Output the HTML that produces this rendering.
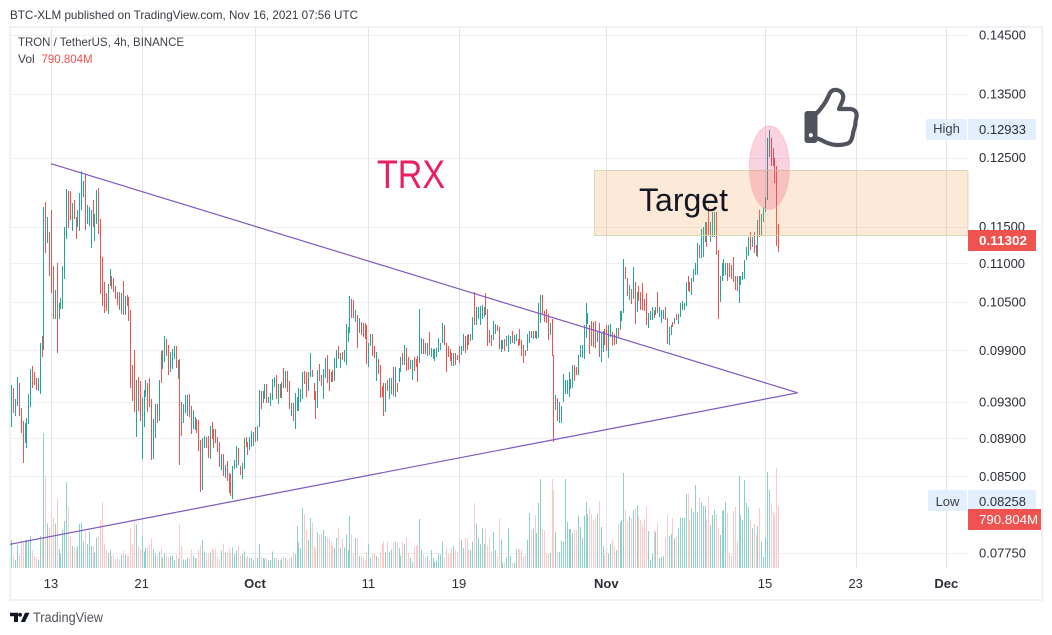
<!DOCTYPE html>
<html lang="en">
<head>
<meta charset="utf-8">
<title>TRON / TetherUS chart</title>
<style>
html,body{margin:0;padding:0;background:#fff;width:1052px;height:635px;overflow:hidden}
svg{display:block;font-family:"Liberation Sans",sans-serif}
</style>
</head>
<body>
<svg id="chart" width="1052" height="635" viewBox="0 0 1052 635" xmlns="http://www.w3.org/2000/svg">
  <rect x="0" y="0" width="1052" height="635" fill="#ffffff"/>
  <text x="10" y="19" font-size="12" fill="#333842" textLength="348" lengthAdjust="spacingAndGlyphs">BTC-XLM published on TradingView.com, Nov 16, 2021 07:56 UTC</text>
  <rect x="10" y="27" width="1032" height="573" fill="none" stroke="#f0f1f6" stroke-width="2"/>
  <g id="grid"></g>
  <g id="volume-layer" shape-rendering="crispEdges"></g>
  <g id="bar-layer" shape-rendering="crispEdges"></g>
  <g id="drawings"></g>
  <text x="18" y="46" font-size="12" fill="#3b3f4a" textLength="166" lengthAdjust="spacingAndGlyphs">TRON / TetherUS, 4h, BINANCE</text>
  <text x="18" y="63" font-size="12" fill="#3b3f4a">Vol</text>
  <text x="41.5" y="63" font-size="12" fill="#ef5350" textLength="51" lengthAdjust="spacingAndGlyphs">790.804M</text>
  <g id="price-axis"></g>
  <g id="time-axis"></g>

  <rect x="926" y="119" width="41" height="21" rx="2" fill="#e3effd"/>
  <text x="946.5" y="133" font-size="13" text-anchor="middle" fill="#3b3f4a">High</text>
  <rect x="968" y="119" width="68" height="21" rx="1" fill="#e3effd"/>
  <text x="979" y="134" font-size="13" fill="#2a2e39">0.12933</text>

  <rect x="968" y="230" width="68" height="21" fill="#ef5350"/>
  <text x="979" y="245" font-size="13" font-weight="bold" fill="#ffffff" textLength="48" lengthAdjust="spacingAndGlyphs">0.11302</text>

  <rect x="928" y="490" width="39" height="21" rx="2" fill="#e3effd"/>
  <text x="947.5" y="506" font-size="13" text-anchor="middle" fill="#3b3f4a">Low</text>
  <rect x="968" y="490" width="68" height="21" rx="1" fill="#e3effd"/>
  <text x="979" y="506" font-size="13" fill="#2a2e39">0.08258</text>

  <rect x="968" y="509" width="73" height="21" fill="#ef5350"/>
  <text x="979" y="524" font-size="13" fill="#ffffff" textLength="59" lengthAdjust="spacingAndGlyphs">790.804M</text>

  <g>
    <path d="M10 612.7H18V622H14V616.3H10ZM20 612.7a2 2 0 1 0 .01 0ZM25 612.7H29.5L25 622H20.8Z" fill="#131722"/>
    <text x="33" y="622" font-size="13.5" fill="#50535e" textLength="70" lengthAdjust="spacingAndGlyphs">TradingView</text>
  </g>
</svg>
<script>
// Prices below are in units of 0.0001 (949 = 0.0949). Volumes are in units of 4.25M.
const PRICE_UNIT = 0.0001;
const VOLUME_UNIT_M = 4.25;

const highs = [
949,946,933,959,952,923,909,907,912,939,
968,972,964,958,957,999,1007,1178,1185,1164,
1143,1173,1097,1065,1101,1049,1055,1097,1149,1204,
1201,1201,1184,1187,1163,1174,1197,1230,1215,1226,
1181,1177,1174,1187,1167,1202,1205,1160,1108,1075,
1061,1073,1092,1083,1080,1070,1062,1062,1061,1077,
1057,1058,1056,1039,973,990,955,959,954,935,
944,955,952,958,933,911,928,928,955,989,
990,1008,1004,997,988,992,995,995,978,980,
930,928,938,938,939,926,921,913,911,910,
888,890,893,892,893,904,908,900,900,891,
886,873,873,862,866,854,853,861,867,882,
880,861,864,890,891,886,891,898,897,902,
904,944,943,943,951,951,936,940,956,959,
961,951,951,953,969,966,966,954,929,929,
940,936,946,945,964,966,964,964,987,967,
952,943,967,974,961,968,981,985,968,964,
967,981,991,995,987,988,991,1022,1018,1057,
1053,1052,1039,1033,1030,1024,1023,1023,1021,999,
1010,1010,995,988,980,973,948,952,952,955,
957,957,970,970,952,969,982,987,997,993,
982,978,978,982,980,983,1041,1005,1004,999,
999,1012,993,992,992,993,1005,999,1023,1021,
999,995,992,987,987,987,984,995,995,1010,
1007,1009,1010,1010,1031,1063,1044,1043,1045,1046,
1043,1061,1041,1015,1009,1026,1022,1021,1018,1002,
1002,1004,1008,1009,1008,1013,1009,1010,1004,1016,
1003,996,991,1010,1014,1014,1014,1014,1014,1049,
1059,1058,1038,1041,1035,1023,1028,984,938,935,
930,926,962,955,955,964,956,973,973,970,
985,996,996,1021,1048,1036,1021,1026,1025,1026,
1014,1023,1012,1013,1016,1021,1021,1022,1012,1010,
1017,1017,1038,1038,1106,1095,1080,1072,1066,1095,
1075,1062,1070,1063,1074,1053,1061,1036,1038,1043,
1040,1044,1063,1044,1040,1039,1044,1029,1018,1021,
1024,1029,1034,1034,1049,1051,1049,1075,1083,1076,
1081,1093,1101,1128,1125,1147,1150,1156,1156,1177,
1156,1171,1171,1171,1118,1083,1100,1106,1101,1100,
1101,1098,1109,1083,1083,1083,1083,1089,1105,1122,
1135,1142,1136,1142,1124,1159,1174,1167,1177,1192,
1280,1293,1280,1264,1250,1238,1153
];

const lows = [
902,918,914,926,915,896,864,885,880,906,
924,946,949,944,942,939,982,991,1114,1128,
1084,1061,1029,1028,987,1029,1041,1041,1079,1133,
1149,1159,1145,1160,1133,1150,1143,1174,1191,1145,
1154,1150,1121,1149,1129,1154,1140,1059,1044,1035,
1038,1035,1070,1066,1062,1053,1045,1039,1034,1034,
1033,1044,1026,945,932,918,891,920,909,868,
903,935,919,925,867,868,891,907,909,951,
968,977,983,962,964,968,980,969,956,862,
893,907,918,914,913,895,900,899,896,876,
834,836,880,880,870,869,890,880,885,875,
860,856,850,849,845,834,831,827,858,859,
862,852,847,857,880,872,877,881,882,886,
888,903,923,929,934,929,929,925,932,947,
933,928,935,935,946,946,942,922,914,909,
900,920,920,930,933,951,935,942,959,959,
933,912,923,954,948,934,957,952,943,952,
953,954,970,980,969,979,977,973,1000,1011,
1029,1029,1024,993,1011,1008,1006,1003,974,970,
995,984,981,954,962,935,935,915,919,942,
933,939,937,935,942,953,964,973,973,966,
967,967,955,966,971,952,975,986,986,986,
984,984,982,980,978,982,988,991,998,997,
964,982,978,972,972,973,978,975,984,989,
986,991,997,1002,1003,1022,1022,1028,1021,1028,
1030,1033,996,999,996,1003,1010,1014,991,987,
991,989,996,989,998,998,998,1002,996,996,
984,974,984,989,999,1006,1004,1006,1004,1006,
1024,1034,1024,1024,1003,1008,983,886,921,909,
907,907,930,939,939,935,945,946,954,961,
961,982,980,980,1004,1022,986,995,995,993,
1000,982,976,988,997,989,981,1006,995,997,
998,1006,1014,1025,1036,1079,1057,1053,1047,1054,
1022,1036,1051,1040,1040,1038,1021,1017,1027,1027,
1030,1034,1036,1031,1024,1028,1028,997,996,1009,
1018,1021,1026,1022,1031,1040,1040,1044,1063,1063,
1059,1076,1085,1085,1108,1108,1109,1128,1122,1136,
1129,1136,1136,1112,1029,1049,1076,1083,1085,1076,
1083,1079,1076,1065,1063,1048,1071,1079,1080,1105,
1109,1118,1122,1114,1109,1108,1136,1136,1156,1170,
1187,1251,1238,1237,1213,1124,1114
];

const directions = (
"GRGGRRRGGG GRRRGGRGRG RRRGRGGGGG RRGRRGGGGR GGGRGGRRRR " +
"RGGRRRRRGR GRRRRRGRRG GGRRRGGRGR GGRRGGGRGR RGGGRRGGRR " +
"RGGRRGRRRR RGRGRRRGGG RRGGRRGGGR GGRGGRGGGG RGRGRGRRGR " +
"GGGGGRRGGR RRGRRGGRRR RGGRGRGGGG RRGRGRRRRG GRRGRRRRGR " +
"GGRGRGGRGR RGGRRRGGRR GRGGGGGGGR RRRRGRRRGG RRRGGRGGGG " +
"GRRRRGGRRG GRGGGRGGRR RRRGGRGRGG GRRRRGRRGR GGGGGGGGRR " +
"GGGGGGRRRR GRGGRRGGRR GRGGGRRGRG RGRRRRRGGG RGRGGGRRGG " +
"RGRGGGGGRR GGGGRGGGRR GGGRRGGGGR RRRRRGGGGG GRGRRGRGGG GGRRRRR"
).replace(/ /g, "").split("");

const volumes = [
84,39,24,69,39,84,80,84,84,86,
96,52,36,31,24,96,90,405,276,134,
120,174,150,134,207,57,42,114,141,258,
184,96,66,62,57,66,132,136,80,108,
72,110,66,66,46,90,94,144,198,72,
54,44,54,36,40,26,30,26,40,52,
40,38,36,120,72,140,130,66,58,96,
50,60,62,68,90,55,44,38,50,60,
32,44,36,32,36,38,24,40,28,130,
66,26,22,32,30,56,38,30,30,56,
68,84,50,42,44,46,58,54,58,34,
26,52,74,46,50,58,44,62,42,52,
66,36,42,50,30,36,30,28,22,32,
30,72,34,30,28,28,22,24,50,30,
32,24,24,28,34,30,26,30,32,48,
42,126,76,60,180,162,114,84,150,136,
64,60,106,100,104,114,96,92,88,78,
66,60,90,120,60,88,62,100,54,156,
100,42,90,88,36,38,30,22,50,72,
30,44,44,36,30,50,72,80,46,80,
50,56,78,80,76,60,38,78,72,90,
46,30,18,64,66,70,147,56,40,30,
38,24,54,30,18,22,44,40,80,32,
60,42,42,60,66,54,48,92,84,60,
90,90,54,54,80,195,134,90,72,118,
72,118,68,90,50,108,54,36,148,86,
16,16,32,118,36,16,16,56,58,56,
54,34,40,84,165,114,118,159,105,195,
267,117,114,45,42,45,267,234,108,50,
48,81,78,267,138,117,117,105,114,114,
158,123,90,158,198,162,180,162,144,150,
162,201,123,66,39,60,42,72,84,66,
54,132,138,144,285,174,141,156,150,174,
180,189,156,144,132,147,186,111,24,42,
114,108,135,30,33,36,90,159,96,102,
150,90,96,120,150,150,150,222,222,144,
180,168,249,168,213,198,186,186,147,216,
129,159,174,162,120,99,171,174,198,165,
45,39,171,183,81,276,159,144,264,195,
183,144,120,132,99,126,180,78,33,93,
288,234,195,171,159,300,186
];

const priceTicks = [0.145, 0.135, 0.125, 0.115, 0.11, 0.105, 0.099, 0.093, 0.089, 0.085, 0.0775];
const timeTickBars = [21, 69, 129, 189, 237, 315, 399, 447, 495];
const timeTickLabels = ["13", "21", "Oct", "11", "19", "Nov", "15", "23", "Dec"];
const boldTimeLabels = ["Oct", "Nov", "Dec"];

// Drawings, anchored in chart coordinates: [bar index, price]
const resistanceLine = [[21, 0.1241], [416.3, 0.09405]];
const supportLine = [[-0.7, 0.0783], [416.3, 0.09405]];
const targetZone = [0.1232, 0.1138];
const targetZoneStartBar = 308.5;
const highlightCentre = [401.3, 0.12349];

const NS = "http://www.w3.org/2000/svg";
const PLOT_RIGHT = 968;
const PLOT_LEFT = 11;
const PLOT_BOTTOM = 568;
const VOLUME_BASE = 568;

function xOf(bar) { return 11.3 + bar * 1.889; }
function yOf(price) { return 35 + 826.5 * Math.log(0.145 / price); }
function volHeight(v) { return v * VOLUME_UNIT_M / 12.75; }

function make(tag, attrs, parent) {
  const el = document.createElementNS(NS, tag);
  for (const k in attrs) el.setAttribute(k, attrs[k]);
  parent.appendChild(el);
  return el;
}

const grid = document.getElementById("grid");
const volumeLayer = document.getElementById("volume-layer");
const barLayer = document.getElementById("bar-layer");
const drawings = document.getElementById("drawings");
const priceAxis = document.getElementById("price-axis");
const timeAxis = document.getElementById("time-axis");

priceTicks.forEach(function (p) {
  const yy = Math.round(yOf(p)) + 0.5;
  const line = make("line", {x1: PLOT_LEFT, x2: PLOT_RIGHT, y1: yy, y2: yy, stroke: "#f0f0f3", "stroke-width": 1}, grid);
  
  
  const t = make("text", {x: 979, y: yOf(p) + 4.5, "font-size": 13, fill: "#2a2e39"}, priceAxis);
  
  
  t.textContent = p.toFixed(5);
});

timeTickBars.forEach(function (b, idx) {
  const xx = Math.round(xOf(b)) + 0.5;
  const line = make("line", {x1: xx, x2: xx, y1: 28, y2: PLOT_BOTTOM, stroke: "#e4e4e8", "stroke-width": 1}, grid);
  
  
  const label = timeTickLabels[idx];
  const t = make("text", {x: xOf(b), y: 588, "font-size": 13, "text-anchor": "middle", fill: "#2a2e39"}, timeAxis);
  
  
  if (boldTimeLabels.indexOf(label) >= 0) t.setAttribute("font-weight", "bold");
  t.textContent = label;
});

volumes.forEach(function (v, i) {
  const h = volHeight(v);
  const r = make("rect", {
    x: Math.round(xOf(i)), y: VOLUME_BASE - h, width: 1, height: h,
    fill: directions[i] === "G" ? "#8ad2ca" : "#fbc9c8"
  }, volumeLayer);
  
  
});

highs.forEach(function (hi, i) {
  const top = yOf(hi * PRICE_UNIT);
  const bottom = yOf(lows[i] * PRICE_UNIT);
  const r = make("rect", {
    x: Math.round(xOf(i)), y: Math.round(top), width: 1, height: Math.max(1, Math.round(bottom - top)),
    fill: directions[i] === "G" ? "#26a69a" : "#ef5350"
  }, barLayer);
  
  
});

const zoneTop = Math.round(yOf(targetZone[0])) + 0.5;
const zoneBottom = Math.round(yOf(targetZone[1])) + 0.5;
const zoneLeft = Math.round(xOf(targetZoneStartBar)) + 0.5;
const zone = make("rect", {
  x: zoneLeft, y: zoneTop, width: PLOT_RIGHT - zoneLeft, height: zoneBottom - zoneTop,
  fill: "rgba(246,145,60,0.2)", stroke: "#d3dcb2", "stroke-width": 1
}, drawings);



const ell = make("ellipse", {
  cx: xOf(highlightCentre[0]), cy: yOf(highlightCentre[1]), rx: 20, ry: 41.7,
  fill: "rgba(233,30,99,0.2)", stroke: "rgba(245,180,170,0.6)", "stroke-width": 1
}, drawings);



const resLine = make("line", {
  x1: xOf(resistanceLine[0][0]), y1: yOf(resistanceLine[0][1]),
  x2: xOf(resistanceLine[1][0]), y2: yOf(resistanceLine[1][1]),
  stroke: "#7e57c2", "stroke-width": 1.2
}, drawings);



const supLine = make("line", {
  x1: xOf(supportLine[0][0]), y1: yOf(supportLine[0][1]),
  x2: xOf(supportLine[1][0]), y2: yOf(supportLine[1][1]),
  stroke: "#7e57c2", "stroke-width": 1.2
}, drawings);



const trx = make("text", {x: 377, y: 188, "font-size": 40, fill: "#e91e63", textLength: 68, lengthAdjust: "spacingAndGlyphs"}, drawings);


trx.textContent = "TRX";

const targetText = make("text", {x: 639, y: 211, "font-size": 32, fill: "#131722", textLength: 89, lengthAdjust: "spacingAndGlyphs"}, drawings);


targetText.textContent = "Target";

const thumb = make("g", {}, drawings);


const thumbOutline = make("path", {
  d: "M816 114 C822 108 826 102 829 95 C831 90 834 89.5 837 90 C842 91 844 95 843 99 C842 103 840 106 839 109 L851 109 C856 110 857 113 856.5 117 C856 120 855 122 855.5 124 C855 128 853 131 853 134 C852 139 851 143 846 144 C838 146 832 145 825 142 C822 140 819 139 816 138",
  fill: "#ffffff", stroke: "#50535e", "stroke-width": 4.2, "stroke-linejoin": "round", "stroke-linecap": "round"
}, thumb);


const thumbCuff = make("rect", {x: 804.5, y: 111, width: 13, height: 32, rx: 3, fill: "#50535e"}, thumb);


const thumbDot = make("circle", {cx: 810.8, cy: 135.2, r: 2.1, fill: "#ffffff"}, thumb);


</script>
</body>
</html>
